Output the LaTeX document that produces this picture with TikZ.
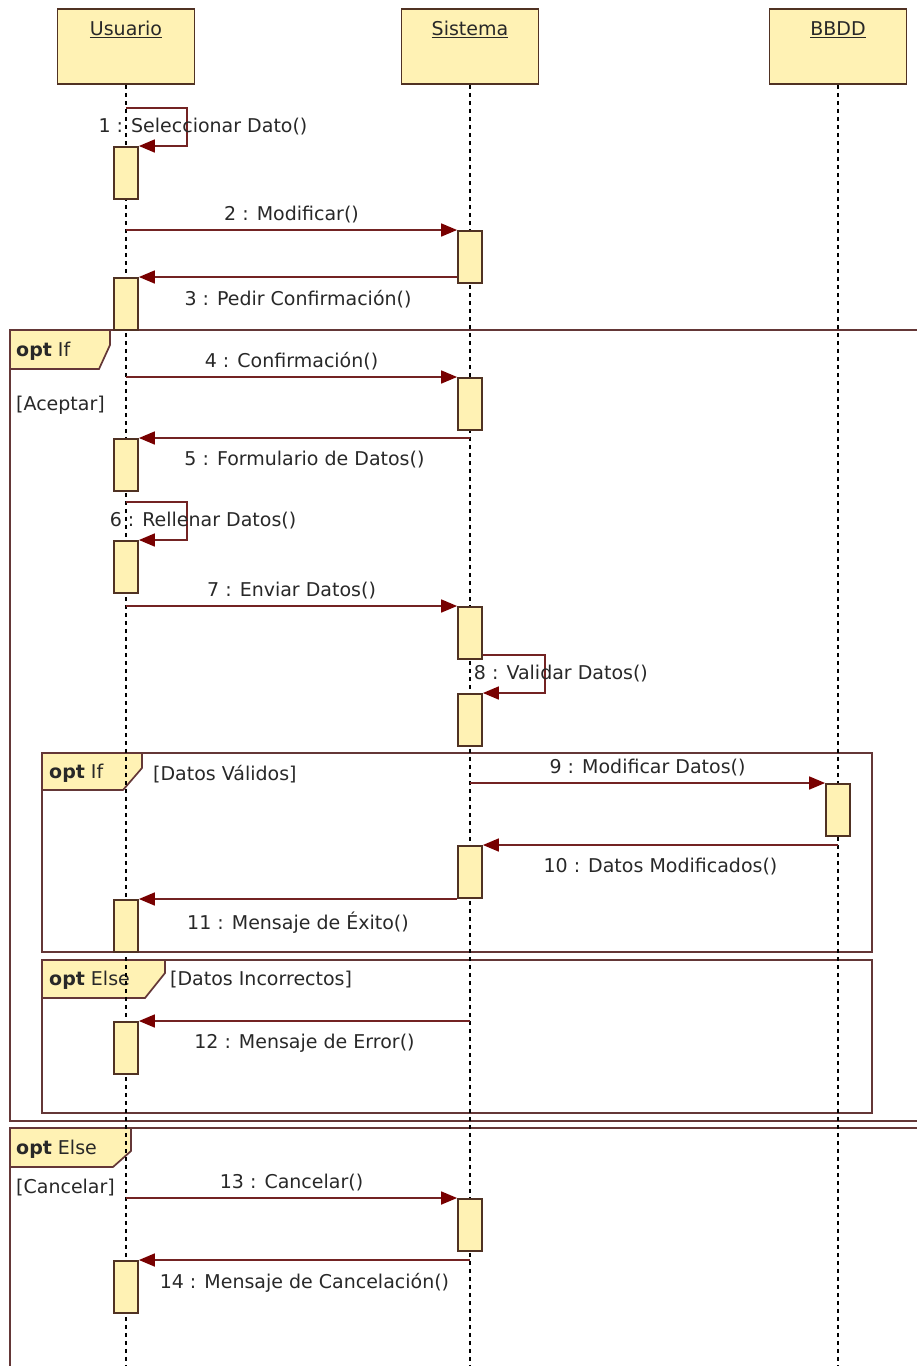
\documentclass[tikz,border=0pt]{standalone}
\usepackage{fontspec}
\setmainfont{DejaVu Sans}
\usetikzlibrary{arrows.meta}
\definecolor{boxfill}{RGB}{255,242,180}
\definecolor{boxline}{RGB}{80,50,35}
\definecolor{msgline}{RGB}{115,35,35}
\definecolor{tipred}{RGB}{120,0,0}
\definecolor{frameline}{RGB}{100,55,55}
\definecolor{txt}{RGB}{40,40,40}
\begin{document}
\begin{tikzpicture}[x=1pt,y=-1pt,font=\fontsize{19}{23}\selectfont,text=txt,
    head/.style={draw=boxline,fill=boxfill,line width=1.8pt,minimum width=137pt,text height=19pt,text depth=40pt,inner ysep=8pt,anchor=north},
    act/.style={draw=boxline,fill=boxfill,line width=1.8pt,minimum width=24pt,minimum height=52pt,inner sep=0pt,anchor=north},
    life/.style={draw=black,line width=1.6pt,dash pattern=on 4pt off 4pt},
    msg/.style={draw=msgline,line width=1.7pt,-{Triangle[length=16pt,width=13pt,color=tipred]}},
    frame/.style={draw=frameline,line width=1.7pt},
    tag/.style={draw=frameline,fill=boxfill,line width=1.7pt},
    guard/.style={anchor=west,inner sep=0pt}]
    \useasboundingbox (0,0) rectangle (917,1366);
    \clip (0,0) rectangle (917,1366);
    \coordinate (bot) at (0,1370);
    \path[frame] (10,330) rectangle (930,1121);
    \path[tag] (10,330) -- (110,330) -- (110,345) -- (99,369) -- (10,369) -- cycle;
    \path (16,351) node(o1)[guard] {\textbf{opt} If};
    \path (16,405) node(g1)[guard] {[Aceptar]};
    \path[frame] (42,753) rectangle (872,952);
    \path[tag] (42,753) -- (142,753) -- (142,768) -- (123,790) -- (42,790) -- cycle;
    \path (49,773) node(o2)[guard] {\textbf{opt} If};
    \path (153,774) node(g2)[guard] {[Datos Válidos]};
    \path[frame] (42,960) rectangle (872,1113);
    \path[tag] (42,960) -- (165,960) -- (165,973) -- (145,998) -- (42,998) -- cycle;
    \path (49,980) node(o3)[guard] {\textbf{opt} Else};
    \path (170,980) node(g3)[guard] {[Datos Incorrectos]};
    \path[frame] (10,1128) rectangle (930,1380);
    \path[tag] (10,1128) -- (131,1128) -- (131,1151) -- (113,1167) -- (10,1167) -- cycle;
    \path (16,1149) node(o4)[guard] {\textbf{opt} Else};
    \path (16,1188) node(g4)[guard] {[Cancelar]};
    \path (126,8) node(usr)[head] {\underline{Usuario}};
    \path (470,8) node(sys)[head] {\underline{Sistema}};
    \path (838,8) node(db)[head] {\underline{BBDD}};
    \path (usr.south) edge[life] (usr.south |- bot);
    \path (sys.south) edge[life] (sys.south |- bot);
    \path (db.south) edge[life] (db.south |- bot);
    \path (126,146) node(a1)[act] {};
    \path (470,230) node(a2)[act] {};
    \path (126,277) node(a3)[act] {};
    \path (470,377) node(a4)[act] {};
    \path (126,438) node(a5)[act] {};
    \path (126,540) node(a6)[act] {};
    \path (470,606) node(a7)[act] {};
    \path (470,693) node(a8)[act] {};
    \path (838,783) node(a9)[act] {};
    \path (470,845) node(a10)[act] {};
    \path (126,899) node(a11)[act] {};
    \path (126,1021) node(a12)[act] {};
    \path (470,1198) node(a13)[act] {};
    \path (126,1260) node(a14)[act] {};
    \path[msg] (usr |- a1.north) ++(0,-38) -- ++(61,0) |- node(l1)[pos=0.25,xshift=16pt] {1 : Seleccionar Dato()} (a1.north east);
    \path (usr |- a2.north) edge[msg] node(l2)[above=3pt] {2 : Modificar()} (a2.north west);
    \path (a2.west |- a3.north) edge[msg] node(l3)[below=9pt] {3 : Pedir Confirmación()} (a3.north east);
    \path (usr |- a4.north) edge[msg] node(l4)[above=3pt] {4 : Confirmación()} (a4.north west);
    \path (sys |- a5.north) edge[msg] node(l5)[below=9pt] {5 : Formulario de Datos()} (a5.north east);
    \path[msg] (usr |- a6.north) ++(0,-38) -- ++(61,0) |- node(l6)[pos=0.25,xshift=16pt] {6 : Rellenar Datos()} (a6.north east);
    \path (usr |- a7.north) edge[msg] node(l7)[above=3pt] {7 : Enviar Datos()} (a7.north west);
    \path[msg] (a8.north east) ++(0,-38) -- ++(62,0) |- node(l8)[pos=0.25,xshift=16pt] {8 : Validar Datos()} (a8.north east);
    \path (sys |- a9.north) edge[msg] node(l9)[above=3pt] {9 : Modificar Datos()} (a9.north west);
    \path (db |- a10.north) edge[msg] node(l10)[below=9pt] {10 : Datos Modificados()} (a10.north east);
    \path (a10.west |- a11.north) edge[msg] node(l11)[below=9pt] {11 : Mensaje de Éxito()} (a11.north east);
    \path (sys |- a12.north) edge[msg] node(l12)[below=9pt] {12 : Mensaje de Error()} (a12.north east);
    \path (usr |- a13.north) edge[msg] node(l13)[above=3pt] {13 : Cancelar()} (a13.north west);
    \path (sys |- a14.north) edge[msg] node(l14)[below=9pt] {14 : Mensaje de Cancelación()} (a14.north east);
\end{tikzpicture}
\end{document}
